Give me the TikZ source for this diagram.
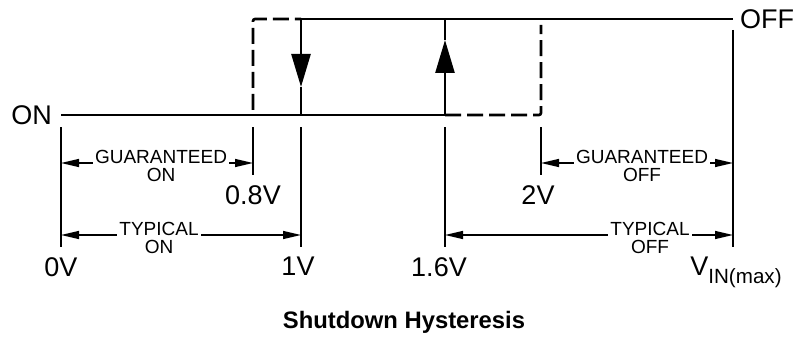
\documentclass[tikz,border=0pt]{standalone}
\usepackage{fontspec}
\setmainfont{Liberation Sans}
\usetikzlibrary{arrows.meta,positioning}

\begin{document}
\begin{tikzpicture}[x=1pt, y=-1pt,
  level/.style={line width=2.6pt},
  guess/.style={line width=2.6pt, dash pattern=on 16pt off 6pt, rounded corners=2pt},
  trip/.style={line width=2.6pt, -{Triangle[length=33pt, width=19pt]}},
  ext/.style={line width=1.8pt},
  dim/.style={line width=1.4pt, {Triangle[length=18pt, width=8pt]}-{Triangle[length=18pt, width=8pt]}},
  big/.style={font=\fontsize{27}{30}\selectfont, inner sep=0pt},
  small/.style={font=\fontsize{19}{20}\selectfont, fill=white, inner xsep=2pt, inner ysep=2pt},
  title/.style={font=\fontsize{23.8}{26}\selectfont\bfseries}
]
\useasboundingbox (0,0) rectangle (796,337);

% levels
\coordinate (v0lo) at (61,115);
\coordinate (v1lo) at (301,115);
\coordinate (v1hi) at (301,19);
\coordinate (v16lo) at (445,115);
\coordinate (v16hi) at (445,19);
\coordinate (vmhi) at (733,19);
\coordinate (dntip) at (301,87);
\coordinate (uptip) at (445,40);
\coordinate (v08a) at (253,110);
\coordinate (v2a) at (541,25);

\draw[level] (v0lo) -- (v16lo);
\draw[level] (v1hi) -- (vmhi);
\draw[trip] (v1hi) -- (dntip);
\draw[level] (dntip) -- (v1lo);
\draw[trip] (v16lo) -- (uptip);
\draw[level] (uptip) -- (v16hi);
\draw[guess] (v08a) |- (v1hi);
\draw[guess] (v16lo) -| (v2a);

\node[big, left=9pt of v0lo] (on) {ON};
\node[big, right=7pt of vmhi] (off) {OFF};

% extension lines
\coordinate (e0t) at (61,127);   \coordinate (e0b) at (61,247);
\coordinate (e08t) at (253,127); \coordinate (e08b) at (253,175);
\coordinate (e1t) at (301,127);  \coordinate (e1b) at (301,247);
\coordinate (e16t) at (445,127); \coordinate (e16b) at (445,247);
\coordinate (e2t) at (541,127);  \coordinate (e2b) at (541,175);
\coordinate (emt) at (733,30);   \coordinate (emb) at (733,247);

\draw[ext] (e0t) -- (e0b);
\draw[ext] (e08t) -- (e08b);
\draw[ext] (e1t) -- (e1b);
\draw[ext] (e16t) -- (e16b);
\draw[ext] (e2t) -- (e2b);
\draw[ext] (emt) -- (emb);

% dimension arrows
\coordinate (gon0) at (61,163);  \coordinate (gon1) at (253,163);
\coordinate (ton0) at (61,235);  \coordinate (ton1) at (301,235);
\coordinate (goff0) at (541,163); \coordinate (goff1) at (733,163);
\coordinate (toff0) at (445,235); \coordinate (toff1) at (733,235);

\draw[dim] (gon0) -- (gon1);
\draw[dim] (ton0) -- (ton1);
\draw[dim] (goff0) -- (goff1);
\draw[dim] (toff0) -- (toff1);

\node[small, anchor=base] (gonA) at (161,163) {GUARANTEED};
\node[small, below=1pt of gonA] (gonB) {ON};
\node[small, anchor=base] (tonA) at (159,235) {TYPICAL};
\node[small, below=1pt of tonA] (tonB) {ON};
\node[small, anchor=base] (goffA) at (642,163) {GUARANTEED};
\node[small, below=1pt of goffA] (goffB) {OFF};
\node[small, anchor=base] (toffA) at (650,235) {TYPICAL};
\node[small, below=1pt of toffA] (toffB) {OFF};

% threshold values
\node[big, below=10pt of e0b] (l0) {0V};
\node[big, below=10pt of e08b] (l08) {0.8V};
\node[big, below=10pt of e1b, xshift=-3pt] (l1) {1V};
\node[big, below=10pt of e16b, xshift=-6pt] (l16) {1.6V};
\node[big, below=10pt of e2b, xshift=-3pt] (l2) {2V};
\node[big, below=10pt of emb, xshift=3pt] (lm) {V\raisebox{-8pt}{\fontsize{20.6}{22}\selectfont IN(max)}};

\node[title] (cap) at (404,322) {Shutdown Hysteresis};
\end{tikzpicture}
\end{document}
